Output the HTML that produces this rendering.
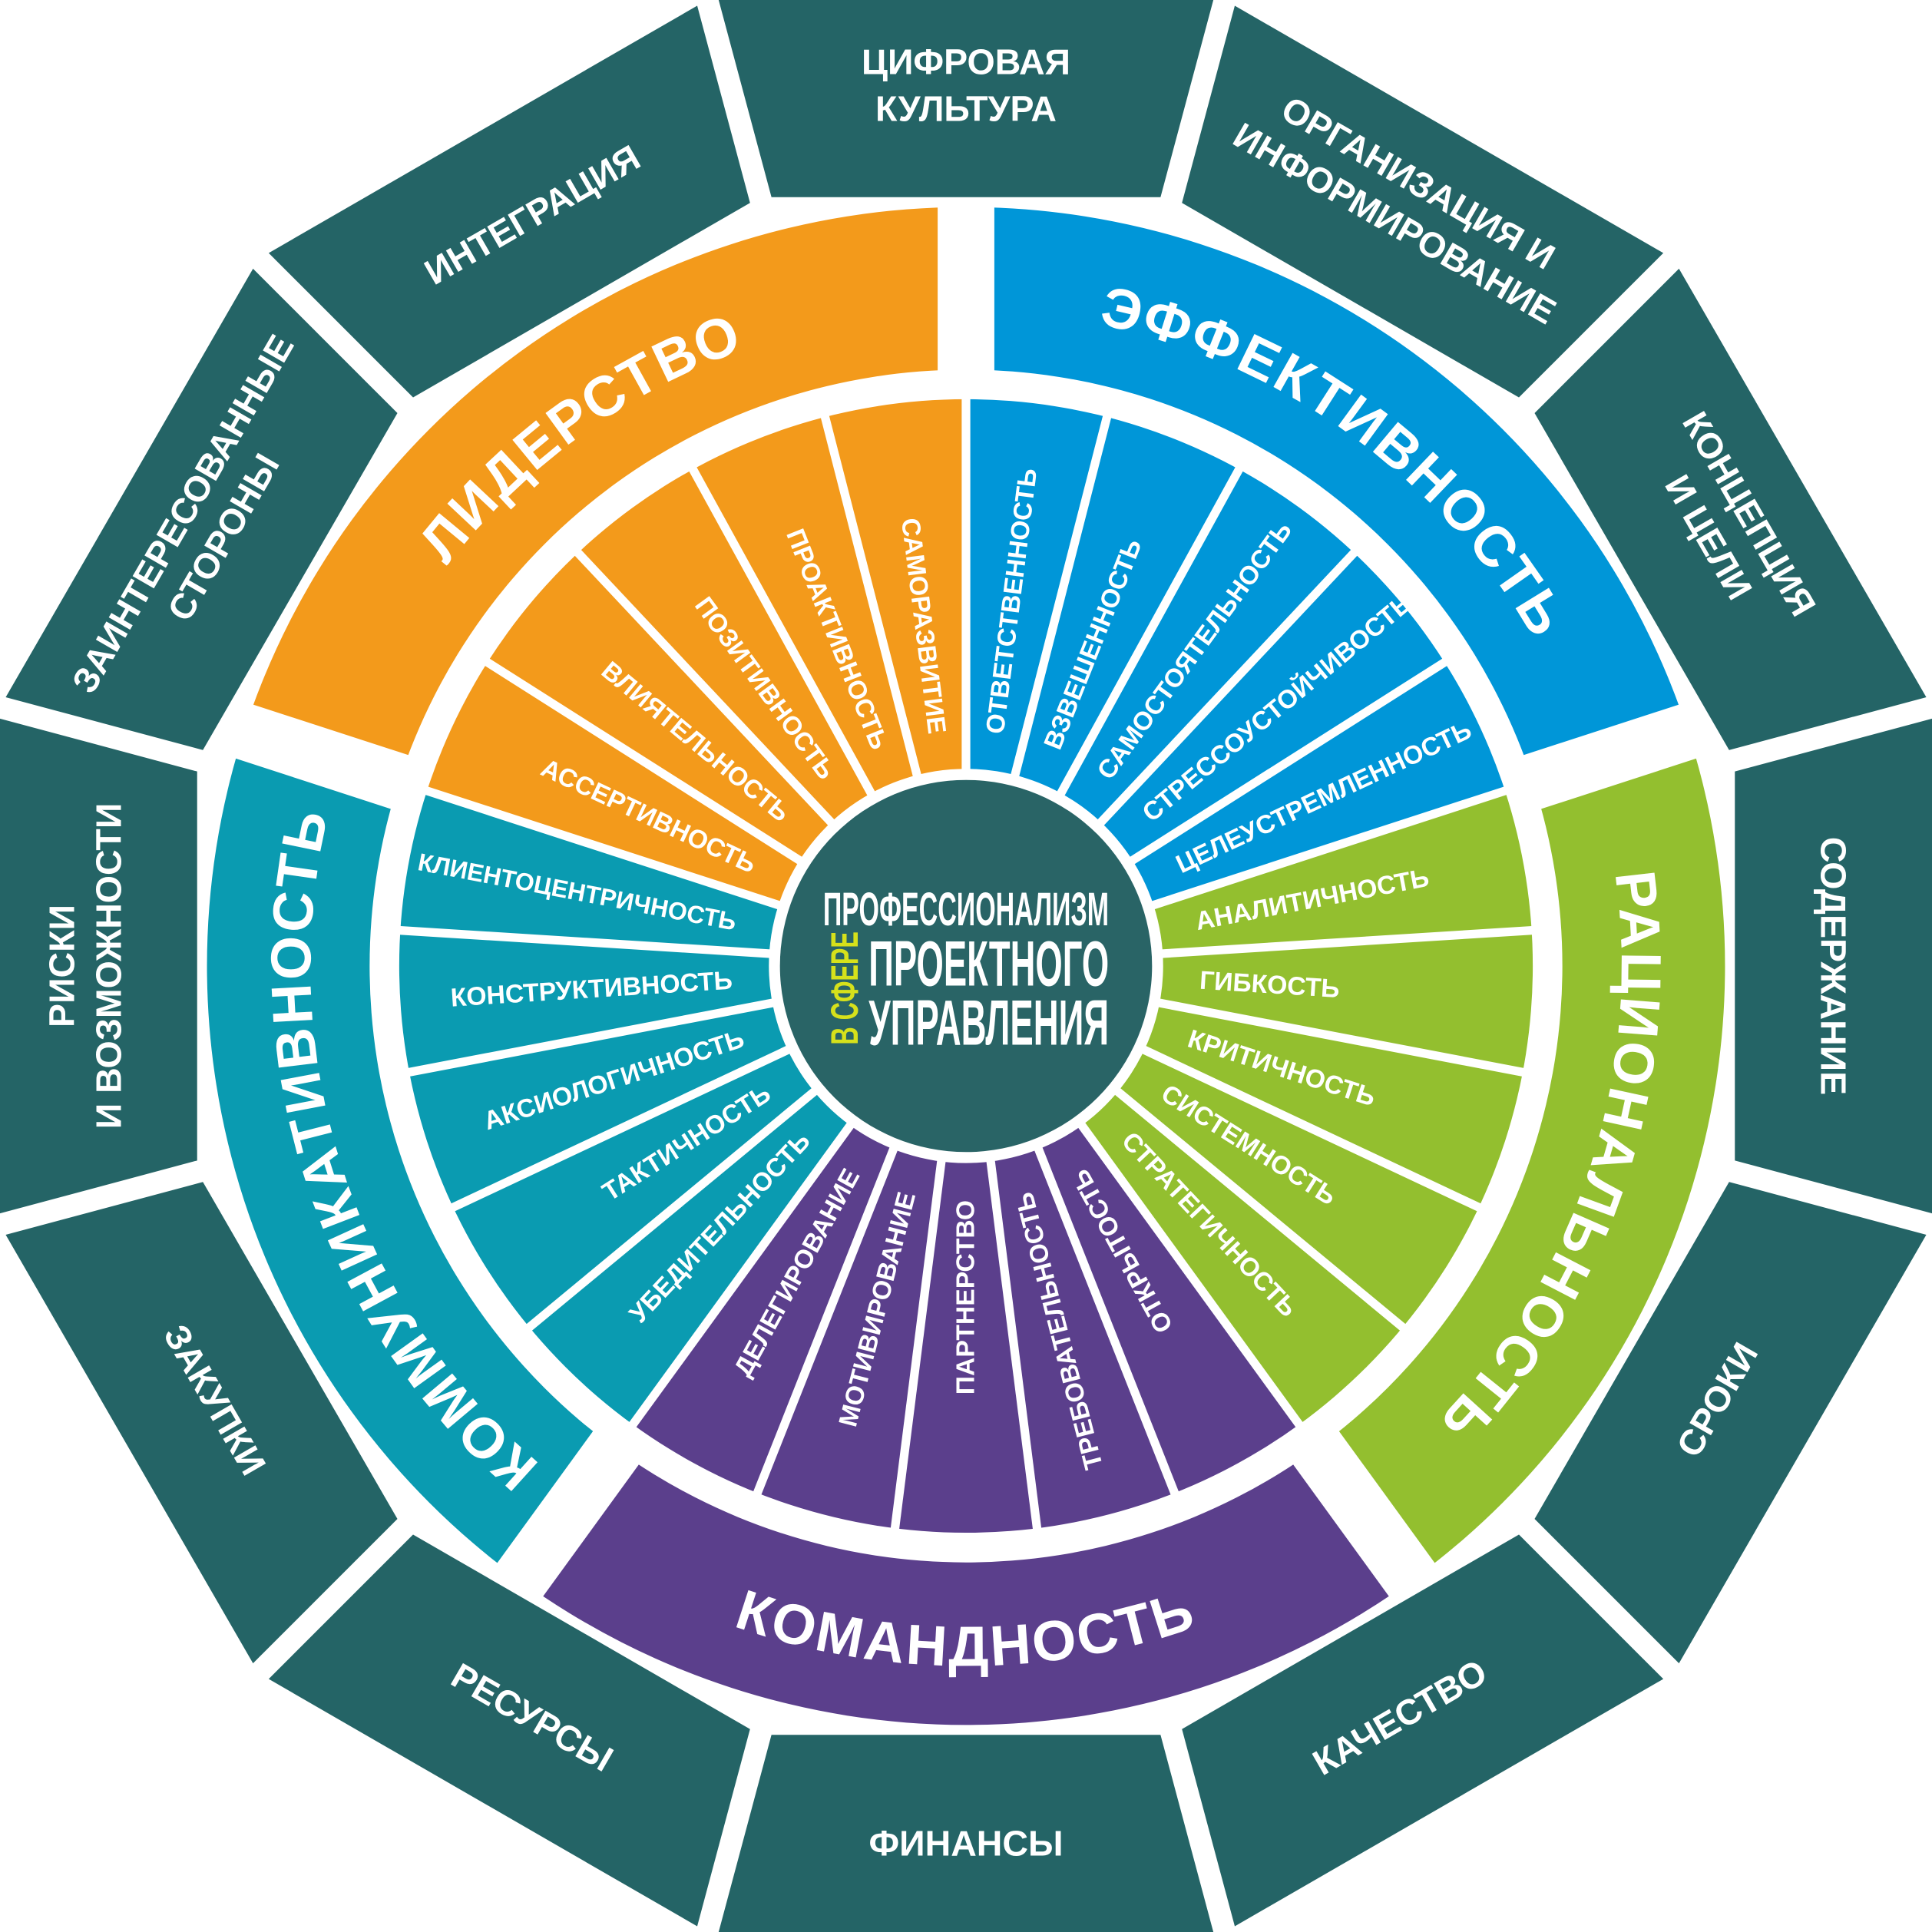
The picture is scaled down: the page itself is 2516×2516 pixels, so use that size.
<!DOCTYPE html>
<html><head><meta charset="utf-8">
<style>html,body{margin:0;padding:0;background:#fff}svg{display:block}
text{font-family:"Liberation Sans","DejaVu Sans",sans-serif;font-weight:bold;fill:#fff}</style></head>
<body>
<svg xmlns="http://www.w3.org/2000/svg" width="2516" height="2516" viewBox="0 0 1568 1568">
<rect width="1568" height="1568" fill="#fff"/>
<path fill="#246466" fill-rule="evenodd" d="M994.1,0 L1358,210 L1568,573.9 L1568,994.1 L1358,1358 L994.1,1568 L573.9,1568 L210,1358 L0,994.1 L0,573.9 L210,210 L573.9,0 Z M951.2,160 L1240.8,327.2 L1408,616.8 L1408,951.2 L1240.8,1240.8 L951.2,1408 L616.8,1408 L327.2,1240.8 L160,951.2 L160,616.8 L327.2,327.2 L616.8,160 Z"/>
<g stroke="#fff" stroke-width="18">
<line x1="784" y1="150" x2="784" y2="-40" transform="rotate(15 784 784)"/>
<line x1="784" y1="150" x2="784" y2="-40" transform="rotate(45 784 784)"/>
<line x1="784" y1="150" x2="784" y2="-40" transform="rotate(75 784 784)"/>
<line x1="784" y1="150" x2="784" y2="-40" transform="rotate(105 784 784)"/>
<line x1="784" y1="150" x2="784" y2="-40" transform="rotate(135 784 784)"/>
<line x1="784" y1="150" x2="784" y2="-40" transform="rotate(165 784 784)"/>
<line x1="784" y1="150" x2="784" y2="-40" transform="rotate(195 784 784)"/>
<line x1="784" y1="150" x2="784" y2="-40" transform="rotate(225 784 784)"/>
<line x1="784" y1="150" x2="784" y2="-40" transform="rotate(255 784 784)"/>
<line x1="784" y1="150" x2="784" y2="-40" transform="rotate(285 784 784)"/>
<line x1="784" y1="150" x2="784" y2="-40" transform="rotate(315 784 784)"/>
<line x1="784" y1="150" x2="784" y2="-40" transform="rotate(345 784 784)"/>
</g>
<g font-size="29" text-anchor="middle">
<text transform="rotate(0 784 784)" x="784" y="60"><tspan x="784" y="60">ЦИФРОВАЯ</tspan><tspan x="784" y="98">КУЛЬТУРА</tspan></text>
<text transform="rotate(30 784 784)" x="784" y="60"><tspan x="784" y="60">ОРГАНИЗАЦИЯ И</tspan><tspan x="784" y="98">ИНФОРМИРОВАНИЕ</tspan></text>
<text transform="rotate(60 784 784)" x="784" y="60"><tspan x="784" y="60">КОНЦЕПЦИЯ</tspan><tspan x="784" y="98">И ЦЕЛИ</tspan></text>
<text transform="rotate(90 784 784)" x="784" y="90">СОДЕРЖАНИЕ</text>
<text transform="rotate(-60 784 784)" x="784" y="1498">СРОКИ</text>
<text transform="rotate(-30 784 784)" x="784" y="1498">КАЧЕСТВО</text>
<text transform="rotate(0 784 784)" x="784" y="1506">ФИНАНСЫ</text>
<text transform="rotate(30 784 784)" x="784" y="1498">РЕСУРСЫ</text>
<text transform="rotate(60 784 784)" x="784" y="1498">ЗАКУПКИ</text>
<text transform="rotate(-90 784 784)" x="784" y="60"><tspan x="784" y="60">РИСКИ</tspan><tspan x="784" y="98">И ВОЗМОЖНОСТИ</tspan></text>
<text transform="rotate(-60 784 784)" x="784" y="60"><tspan x="784" y="60">ЗАИНТЕРЕСОВАННЫЕ</tspan><tspan x="784" y="98">СТОРОНЫ</tspan></text>
<text transform="rotate(-30 784 784)" x="784" y="90">ИНТЕГРАЦИЯ</text>
</g>
<path fill="#F39A1B" d="M198.1,593.7 A616,616 0 0 1 784,168 L784,300 A484,484 0 0 0 323.7,634.4 Z"/>
<path fill="#0096D8" d="M784,168 A616,616 0 0 1 1369.9,593.7 L1244.3,634.4 A484,484 0 0 0 784,300 Z"/>
<path fill="#93BF2F" d="M1369.9,593.7 A616,616 0 0 1 1146.1,1282.3 L1068.5,1175.6 A484,484 0 0 0 1244.3,634.4 Z"/>
<path fill="#5B3F8C" d="M1146.1,1282.3 A616,616 0 0 1 421.9,1282.3 L499.5,1175.6 A484,484 0 0 0 1068.5,1175.6 Z"/>
<path fill="#0A9BB1" d="M421.9,1282.3 A616,616 0 0 1 198.1,593.7 L323.7,634.4 A484,484 0 0 0 499.5,1175.6 Z"/>
<path fill="#F39A1B" d="M346.5,641.9 A460,460 0 0 1 784,324 L784,624 A160,160 0 0 0 631.8,734.6 Z"/>
<path fill="#0096D8" d="M784,324 A460,460 0 0 1 1221.5,641.9 L936.2,734.6 A160,160 0 0 0 784,624 Z"/>
<path fill="#93BF2F" d="M1221.5,641.9 A460,460 0 0 1 1054.4,1156.1 L878,913.4 A160,160 0 0 0 936.2,734.6 Z"/>
<path fill="#5B3F8C" d="M1054.4,1156.1 A460,460 0 0 1 513.6,1156.1 L690,913.4 A160,160 0 0 0 878,913.4 Z"/>
<path fill="#0A9BB1" d="M513.6,1156.1 A460,460 0 0 1 346.5,641.9 L631.8,734.6 A160,160 0 0 0 690,913.4 Z"/>
<g stroke="#fff" stroke-width="46">
<line x1="784" y1="318" x2="784" y2="165" transform="rotate(0 784 784)"/>
<line x1="784" y1="318" x2="784" y2="165" transform="rotate(72 784 784)"/>
<line x1="784" y1="318" x2="784" y2="165" transform="rotate(144 784 784)"/>
<line x1="784" y1="318" x2="784" y2="165" transform="rotate(216 784 784)"/>
<line x1="784" y1="318" x2="784" y2="165" transform="rotate(288 784 784)"/>
</g>
<g stroke="#fff" stroke-width="7">
<line x1="784" y1="640" x2="784" y2="310" transform="rotate(0 784 784)"/>
<line x1="784" y1="640" x2="784" y2="310" transform="rotate(14.4 784 784)"/>
<line x1="784" y1="640" x2="784" y2="310" transform="rotate(28.8 784 784)"/>
<line x1="784" y1="640" x2="784" y2="310" transform="rotate(43.2 784 784)"/>
<line x1="784" y1="640" x2="784" y2="310" transform="rotate(57.6 784 784)"/>
<line x1="784" y1="640" x2="784" y2="310" transform="rotate(72 784 784)"/>
<line x1="784" y1="640" x2="784" y2="310" transform="rotate(86.4 784 784)"/>
<line x1="784" y1="640" x2="784" y2="310" transform="rotate(100.8 784 784)"/>
<line x1="784" y1="640" x2="784" y2="310" transform="rotate(115.2 784 784)"/>
<line x1="784" y1="640" x2="784" y2="310" transform="rotate(129.6 784 784)"/>
<line x1="784" y1="640" x2="784" y2="310" transform="rotate(144 784 784)"/>
<line x1="784" y1="640" x2="784" y2="310" transform="rotate(158.4 784 784)"/>
<line x1="784" y1="640" x2="784" y2="310" transform="rotate(172.8 784 784)"/>
<line x1="784" y1="640" x2="784" y2="310" transform="rotate(187.2 784 784)"/>
<line x1="784" y1="640" x2="784" y2="310" transform="rotate(201.6 784 784)"/>
<line x1="784" y1="640" x2="784" y2="310" transform="rotate(216 784 784)"/>
<line x1="784" y1="640" x2="784" y2="310" transform="rotate(230.4 784 784)"/>
<line x1="784" y1="640" x2="784" y2="310" transform="rotate(244.8 784 784)"/>
<line x1="784" y1="640" x2="784" y2="310" transform="rotate(259.2 784 784)"/>
<line x1="784" y1="640" x2="784" y2="310" transform="rotate(273.6 784 784)"/>
<line x1="784" y1="640" x2="784" y2="310" transform="rotate(288 784 784)"/>
<line x1="784" y1="640" x2="784" y2="310" transform="rotate(302.4 784 784)"/>
<line x1="784" y1="640" x2="784" y2="310" transform="rotate(316.8 784 784)"/>
<line x1="784" y1="640" x2="784" y2="310" transform="rotate(331.2 784 784)"/>
<line x1="784" y1="640" x2="784" y2="310" transform="rotate(345.6 784 784)"/>
</g>
<g font-size="21" dominant-baseline="central">
<g text-anchor="start">
<text transform="rotate(-82.8 784 784)" x="974" y="784">ОТВЕТСТВЕННОСТЬ</text>
<text transform="rotate(-68.4 784 784)" x="974" y="784">ВЗВЕШЕННОСТЬ</text>
<text transform="rotate(-54 784 784)" x="974" y="784">САМОСТОЯТЕЛЬНОСТЬ</text>
<text transform="rotate(-39.6 784 784)" x="974" y="784">СТРЕССОУСТОЙЧИВОСТЬ</text>
<text transform="rotate(-25.2 784 784)" x="974" y="784">ЦЕЛЕУСТРЕМЛЕННОСТЬ</text>
<text transform="rotate(-10.8 784 784)" x="974" y="784">АНАЛИТИЧНОСТЬ</text>
<text transform="rotate(3.6 784 784)" x="974" y="784">ГИБКОСТЬ</text>
<text transform="rotate(18 784 784)" x="974" y="784">КРИТИЧНОСТЬ</text>
<text transform="rotate(32.4 784 784)" x="974" y="784">СИСТЕМНОСТЬ</text>
<text transform="rotate(46.8 784 784)" x="974" y="784">СТРАТЕГИЧНОСТЬ</text>
</g>
<g text-anchor="end">
<text transform="rotate(241.2 784 784)" x="594" y="784">ОТКРЫТОСТЬ</text>
<text transform="rotate(255.6 784 784)" x="594" y="784">ТРЕБОВАТЕЛЬНОСТЬ</text>
<text transform="rotate(270 784 784)" x="594" y="784">ПАРТНЕРСТВО</text>
<text transform="rotate(284.4 784 784)" x="594" y="784">МОТИВИРОВАНИЕ</text>
<text transform="rotate(298.8 784 784)" x="594" y="784">ДЕЛЕГИРОВАНИЕ</text>
<text transform="rotate(313.2 784 784)" x="594" y="784">УБЕДИТЕЛЬНОСТЬ</text>
<text transform="rotate(327.6 784 784)" x="594" y="784">ТАКТИЧНОСТЬ</text>
<text transform="rotate(342 784 784)" x="594" y="784">АКСИОЛОГИЧНОСТЬ</text>
<text transform="rotate(356.4 784 784)" x="594" y="784">КОНСТРУКТИВНОСТЬ</text>
<text transform="rotate(370.8 784 784)" x="594" y="784" font-size="20">КЛИЕНТОЦЕНТРИЧНОСТЬ</text>
<text transform="rotate(385.2 784 784)" x="594" y="784">АССЕРТИВНОСТЬ</text>
<text transform="rotate(399.6 784 784)" x="594" y="784">ВЛИЯТЕЛЬНОСТЬ</text>
<text transform="rotate(414 784 784)" x="594" y="784">ПОЗИТИВНОСТЬ</text>
<text transform="rotate(428.4 784 784)" x="594" y="784">ПРОАКТИВНОСТЬ</text>
<text transform="rotate(442.8 784 784)" x="594" y="784">САМОРАЗВИТИЕ</text>
</g>
</g>
<defs>
<path id="pL" d="M287.3,593.3 A532,532 0 0 1 756.2,252.8"/>
<path id="pE" d="M811.8,252.8 A532,532 0 0 1 1280.7,593.3"/>
<path id="pR" d="M1297.9,646.3 A532,532 0 0 1 1118.8,1197.4"/>
<path id="pK" d="M449.2,1197.4 A532,532 0 0 1 270.1,646.3"/>
<path id="pC" d="M474.7,1260.4 A568,568 0 0 0 1093.3,1260.4"/>
</defs>
<g font-size="46" letter-spacing="2">
<text><textPath href="#pL" startOffset="50%" text-anchor="middle">ЛИДЕРСТВО</textPath></text>
<text><textPath href="#pE" startOffset="50%" text-anchor="middle">ЭФФЕКТИВНОСТЬ</textPath></text>
<text><textPath href="#pR" startOffset="50%" text-anchor="middle">РАЦИОНАЛЬНОСТЬ</textPath></text>
<text><textPath href="#pK" startOffset="50%" text-anchor="middle">КОММУНИКАТИВНОСТЬ</textPath></text>
<text><textPath href="#pC" startOffset="50%" text-anchor="middle">КОМАНДНОСТЬ</textPath></text>
</g>
<circle cx="784" cy="784" r="151" fill="#296466"/>
<text x="668" y="751" font-size="38" textLength="232" lengthAdjust="spacingAndGlyphs">ПРОФЕССИОНАЛИЗМ</text>
<text x="705" y="800" font-size="52" textLength="195" lengthAdjust="spacingAndGlyphs">ПРОЕКТНОГО</text>
<text x="705" y="848" font-size="52" textLength="195" lengthAdjust="spacingAndGlyphs">УПРАВЛЕНИЯ</text>
<text transform="translate(696,802) rotate(-90)" text-anchor="middle" font-size="31" textLength="92" lengthAdjust="spacingAndGlyphs" style="fill:#D6E11B">В СФЕРЕ</text>
</svg>
</body></html>
